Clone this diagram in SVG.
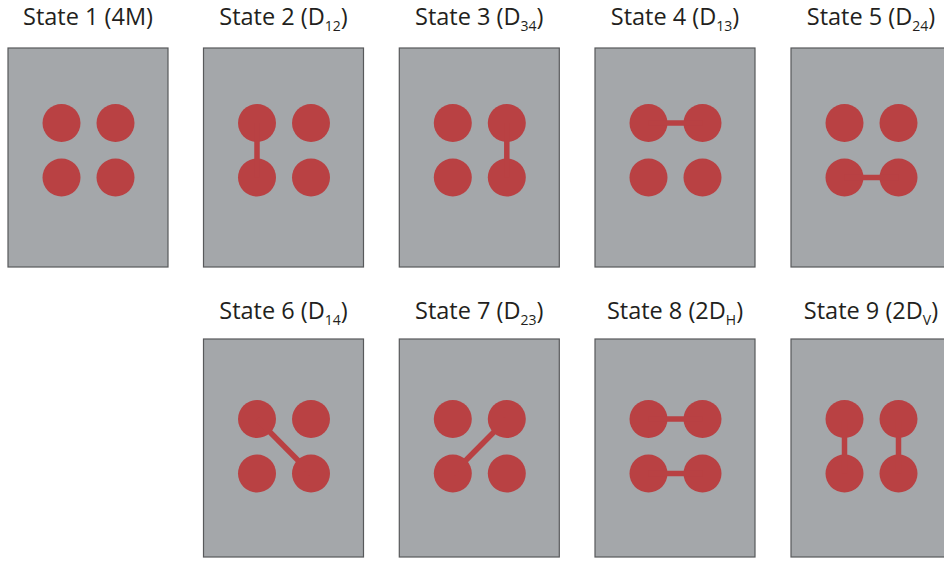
<svg xmlns="http://www.w3.org/2000/svg" xmlns:xlink="http://www.w3.org/1999/xlink" width="944" height="561" viewBox="0 0 944 561">
<style>
.panel{fill:#a4a7aa;stroke:#58595b;stroke-width:1.2}
.dot{fill:#b94143}
.bond{stroke:#b94143;stroke-width:5.5;fill:none}
.lbl{font-family:"Open Sans","Liberation Sans",sans-serif;font-size:23.5px;fill:#231f20;text-anchor:middle}
.sub{font-size:14px}
</style>
<defs>
<g id="dots">
<circle class="dot" cx="53.5" cy="0" r="19"/>
<circle class="dot" cx="107.5" cy="0" r="19"/>
<circle class="dot" cx="53.5" cy="54.5" r="19"/>
<circle class="dot" cx="107.5" cy="54.5" r="19"/>
</g>
</defs>
<g id="state1">
<text class="lbl" x="88" y="25">State 1 (4M)</text>
<rect class="panel" x="8" y="48" width="160" height="219"/>
<use xlink:href="#dots" x="8" y="123"/>
</g>
<g id="state2">
<text class="lbl" x="283.5" y="25">State 2 (D<tspan class="sub" dy="6">12</tspan><tspan dy="-6">)</tspan></text>
<rect class="panel" x="203.5" y="48" width="160" height="219"/>
<use xlink:href="#dots" x="203.5" y="123"/>
</g>
<g id="state3">
<text class="lbl" x="479.3" y="25">State 3 (D<tspan class="sub" dy="6">34</tspan><tspan dy="-6">)</tspan></text>
<rect class="panel" x="399.3" y="48" width="160" height="219"/>
<use xlink:href="#dots" x="399.3" y="123"/>
</g>
<g id="state4">
<text class="lbl" x="675" y="25">State 4 (D<tspan class="sub" dy="6">13</tspan><tspan dy="-6">)</tspan></text>
<rect class="panel" x="595" y="48" width="160" height="219"/>
<use xlink:href="#dots" x="595" y="123"/>
</g>
<g id="state5">
<text class="lbl" x="871" y="25">State 5 (D<tspan class="sub" dy="6">24</tspan><tspan dy="-6">)</tspan></text>
<rect class="panel" x="791" y="48" width="160" height="219"/>
<use xlink:href="#dots" x="791" y="123"/>
</g>
<g id="state6">
<text class="lbl" x="283.5" y="319">State 6 (D<tspan class="sub" dy="6">14</tspan><tspan dy="-6">)</tspan></text>
<rect class="panel" x="203.5" y="339" width="160" height="218"/>
<use xlink:href="#dots" x="203.5" y="419"/>
</g>
<g id="state7">
<text class="lbl" x="479.3" y="319">State 7 (D<tspan class="sub" dy="6">23</tspan><tspan dy="-6">)</tspan></text>
<rect class="panel" x="399.3" y="339" width="160" height="218"/>
<use xlink:href="#dots" x="399.3" y="419"/>
</g>
<g id="state8">
<text class="lbl" x="675" y="319">State 8 (2D<tspan class="sub" dy="6">H</tspan><tspan dy="-6">)</tspan></text>
<rect class="panel" x="595" y="339" width="160" height="218"/>
<use xlink:href="#dots" x="595" y="419"/>
</g>
<g id="state9">
<text class="lbl" x="871" y="319">State 9 (2D<tspan class="sub" dy="6">V</tspan><tspan dy="-6">)</tspan></text>
<rect class="panel" x="791" y="339" width="160" height="218"/>
<use xlink:href="#dots" x="791" y="419"/>
</g>
<g id="connectors">
<line class="bond" x1="257" y1="123" x2="257" y2="177.5"/>
<line class="bond" x1="506.8" y1="123" x2="506.8" y2="177.5"/>
<line class="bond" x1="648.5" y1="123" x2="702.5" y2="123"/>
<line class="bond" x1="844.5" y1="177.5" x2="898.5" y2="177.5"/>
<line class="bond" x1="257" y1="419" x2="311" y2="473.5"/>
<line class="bond" x1="506.8" y1="419" x2="452.8" y2="473.5"/>
<line class="bond" x1="648.5" y1="419" x2="702.5" y2="419"/>
<line class="bond" x1="648.5" y1="473.5" x2="702.5" y2="473.5"/>
<line class="bond" x1="844.5" y1="419" x2="844.5" y2="473.5"/>
<line class="bond" x1="898.5" y1="419" x2="898.5" y2="473.5"/>
</g>
</svg>
